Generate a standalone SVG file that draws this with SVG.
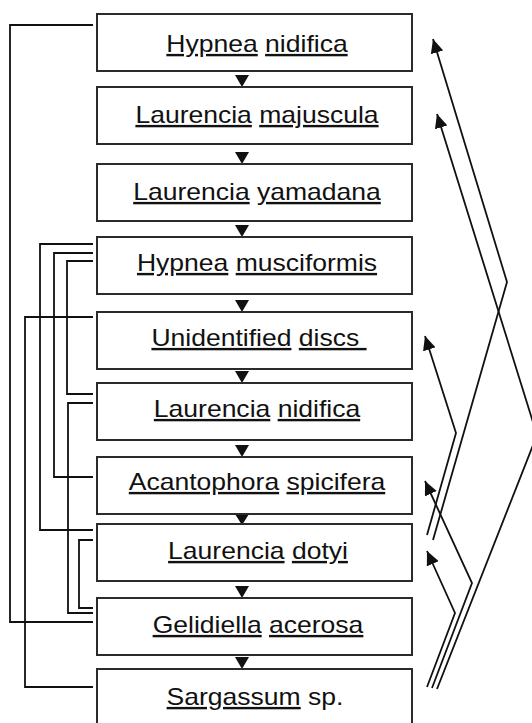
<svg xmlns="http://www.w3.org/2000/svg" width="532" height="723" viewBox="0 0 532 723">
<style>
.box{fill:#fff;stroke:#2b2b2b;stroke-width:2}
.lbl{font-family:"Liberation Sans",Arial,sans-serif;font-size:24px;fill:#111;text-anchor:middle}
.u{text-decoration:underline}
.ln{fill:none;stroke:#111;stroke-width:1.8}
.tri{fill:#111}
</style>
<defs>
<marker id="ah" markerUnits="userSpaceOnUse" markerWidth="15" markerHeight="13" refX="14" refY="6.5" orient="auto">
<path d="M0,0 L14,6.5 L0,13 z" fill="#111"/>
</marker>
</defs>
<rect width="532" height="723" fill="#fff"/>
<g id="connectors">
<polyline class="ln" points="93,25 10,25 10,622 93,622"/>
<polyline class="ln" points="93,244 40,244 40,530 93,530"/>
<polyline class="ln" points="93,253 54,253 54,477 93,477"/>
<polyline class="ln" points="93,261 67,261 67,394 93,394"/>
<polyline class="ln" points="93,317 25,317 25,687 93,687"/>
<polyline class="ln" points="93,403 68,403 68,613 93,613"/>
<polyline class="ln" points="93,540 79,540 79,608 93,608"/>
<polyline class="ln" points="433,540 507,282 433,39" marker-end="url(#ah)"/>
<polyline class="ln" points="437,689 537,435 437,114" marker-end="url(#ah)"/>
<polyline class="ln" points="427,535 456,433 425,336" marker-end="url(#ah)"/>
<polyline class="ln" points="432,688 472,583 425,481" marker-end="url(#ah)"/>
<polyline class="ln" points="427,687 455,613 427,551" marker-end="url(#ah)"/>
<polygon class="tri" points="235,75 249,75 242,87"/>
<polygon class="tri" points="235,152 249,152 242,164"/>
<polygon class="tri" points="235,225 249,225 242,237"/>
<polygon class="tri" points="235,300 249,300 242,312"/>
<polygon class="tri" points="235,371 249,371 242,383"/>
<polygon class="tri" points="235,445 249,445 242,457"/>
<polygon class="tri" points="235,514 249,514 242,525"/>
<polygon class="tri" points="235,586 249,586 242,598"/>
<polygon class="tri" points="235,657 249,657 242,669"/>
</g>
<g id="n1"><rect class="box" x="97" y="14" width="315" height="57"/>
<g transform="translate(257,52) scale(1.105,1)"><text class="lbl"><tspan class="u">Hypnea</tspan> <tspan class="u">nidifica</tspan></text></g></g>
<g id="n2"><rect class="box" x="97" y="87" width="315" height="57"/>
<g transform="translate(257,123) scale(1.105,1)"><text class="lbl"><tspan class="u">Laurencia</tspan> <tspan class="u">majuscula</tspan></text></g></g>
<g id="n3"><rect class="box" x="97" y="164" width="315" height="57"/>
<g transform="translate(257,200) scale(1.105,1)"><text class="lbl"><tspan class="u">Laurencia</tspan> <tspan class="u">yamadana</tspan></text></g></g>
<g id="n4"><rect class="box" x="97" y="237" width="315" height="57"/>
<g transform="translate(257,271) scale(1.105,1)"><text class="lbl"><tspan class="u">Hypnea</tspan> <tspan class="u">musciformis</tspan></text></g></g>
<g id="n5"><rect class="box" x="97" y="312" width="315" height="57"/>
<g transform="translate(259,346) scale(1.105,1)"><text class="lbl"><tspan class="u">Unidentified</tspan> <tspan class="u">discs&#160;</tspan></text></g></g>
<g id="n6"><rect class="box" x="97" y="383" width="315" height="57"/>
<g transform="translate(257,417) scale(1.105,1)"><text class="lbl"><tspan class="u">Laurencia</tspan> <tspan class="u">nidifica</tspan></text></g></g>
<g id="n7"><rect class="box" x="97" y="457" width="315" height="57"/>
<g transform="translate(257,490) scale(1.105,1)"><text class="lbl"><tspan class="u">Acantophora</tspan> <tspan class="u">spicifera</tspan></text></g></g>
<g id="n8"><rect class="box" x="97" y="524" width="315" height="57"/>
<g transform="translate(258,559) scale(1.105,1)"><text class="lbl"><tspan class="u">Laurencia</tspan> <tspan class="u">dotyi</tspan></text></g></g>
<g id="n9"><rect class="box" x="97" y="598" width="315" height="57"/>
<g transform="translate(258,633) scale(1.105,1)"><text class="lbl"><tspan class="u">Gelidiella</tspan> <tspan class="u">acerosa</tspan></text></g></g>
<g id="n10"><rect class="box" x="97" y="669" width="315" height="60"/>
<g transform="translate(255,705) scale(1.105,1)"><text class="lbl"><tspan class="u">Sargassum</tspan> sp.</text></g></g>
</svg>
